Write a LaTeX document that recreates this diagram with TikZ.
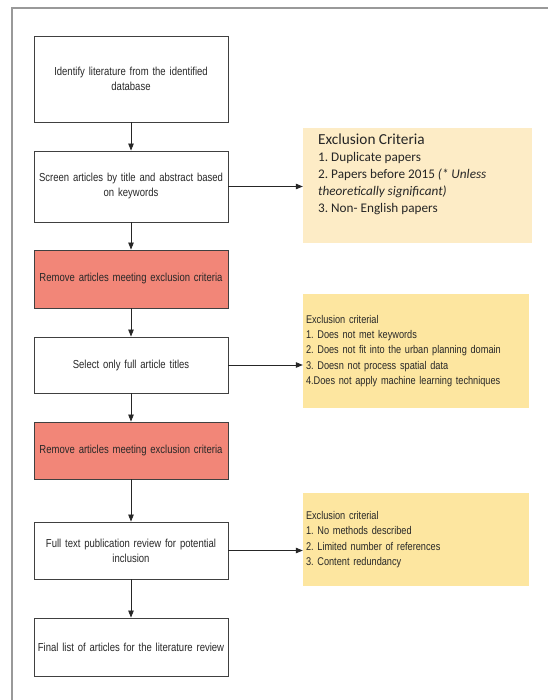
\documentclass[tikz,border=0pt]{standalone}
\usepackage{fontspec}
\setmainfont{Liberation Sans}
\newfontfamily\narrowf[FakeStretch=0.82,WordSpace=0.8]{Liberation Sans}
\newfontfamily\calib{Carlito}
\usetikzlibrary{arrows.meta}
\definecolor{salmonred}{RGB}{242,134,120}
\definecolor{paleyellow}{RGB}{253,236,198}
\definecolor{softyellow}{RGB}{253,230,160}
\definecolor{txtgray}{RGB}{40,40,40}
\frenchspacing
\begin{document}
\begin{tikzpicture}[x=1pt,y=-1pt,
  flowbox/.style={draw=black!75, line width=0.9pt, fill=white, minimum width=194pt,
    text width=188pt, align=center, inner sep=0pt,
    font=\narrowf\fontsize{11.6}{15}\selectfont, text=txtgray},
  redbox/.style={flowbox, fill=salmonred},
  critbox/.style={fill=softyellow, minimum width=226pt, text width=220pt, inner xsep=3pt,
    inner ysep=0pt, align=left, font=\narrowf\fontsize{11.2}{15.2}\selectfont, text=txtgray},
  arr/.style={-{Triangle[length=7pt,width=5.5pt]}, line width=0.8pt, black!85}]
\useasboundingbox (0,0) rectangle (548,700);
\fill[white] (0,0) rectangle (548,700);
\draw[black!40, line width=1.4pt] (12,700) -- (12,8) -- (548,8);

\node[flowbox, minimum height=86pt] (b1) at (131,79) {Identify literature from the identified\\database};
\node[flowbox, minimum height=71pt] (b2) at (131,186.5) {Screen articles by title and abstract based\\on keywords};
\node[redbox, minimum height=58pt] (r1) at (131,279) {Remove articles meeting exclusion criteria};
\node[flowbox, minimum height=56pt] (b3) at (131,365) {Select only full article titles};
\node[redbox, minimum height=57pt] (r2) at (131,450.5) {Remove articles meeting exclusion criteria};
\node[flowbox, minimum height=57pt] (b4) at (131,550.5) {Full text publication review for potential\\inclusion};
\node[flowbox, minimum height=58pt] (b5) at (131,647) {Final list of articles for the literature review};

\node[fill=paleyellow, minimum width=229pt, minimum height=115pt, inner sep=0pt] (c1) at (417.5,185.5) {};
\node[anchor=north west, inner sep=0pt, align=left, text=black!85,
  font=\calib\fontsize{13.2}{17}\selectfont] (t1) at (318,133.5)
  {{\fontsize{15.3}{17}\selectfont Exclusion Criteria}\\
   1. Duplicate papers\\
   2. Papers before 2015 \textit{(* Unless}\\
   \textit{theoretically significant)}\\
   3. Non- English papers};

\node[critbox, minimum height=114pt] (c2) at (416,351)
  {Exclusion criterial\\
   1. Does not met keywords\\
   2. Does not fit into the urban planning domain\\
   3. Doesn not process spatial data\\
   4.Does not apply machine learning techniques};

\node[critbox, minimum height=93pt] (c3) at (416,539.5)
  {Exclusion criterial\\
   1. No methods described\\
   2. Limited number of references\\
   3. Content redundancy};

\draw[arr] (b1) -- (b2);
\draw[arr] (b2) -- (r1);
\draw[arr] (r1) -- (b3);
\draw[arr] (b3) -- (r2);
\draw[arr] (r2) -- (b4);
\draw[arr] (b4) -- (b5);
\draw[arr] (b2.east) -- (b2.east -| c1.west);
\draw[arr] (b3.east) -- (b3.east -| c2.west);
\draw[arr] (b4.east) -- (b4.east -| c3.west);
\end{tikzpicture}
\end{document}
